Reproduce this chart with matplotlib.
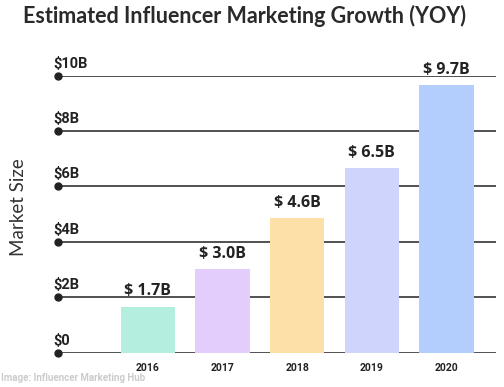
import matplotlib
matplotlib.use("Agg")
import matplotlib.pyplot as plt
import numpy as np

years = ["2016", "2017", "2018", "2019", "2020"]
heights = [1.65, 3.0, 4.85, 6.65, 9.65]
value_labels = ["$ 1.7B", "$ 3.0B", "$ 4.6B", "$ 6.5B", "$ 9.7B"]
colors = ["#b3eede", "#e3cdfd", "#fde0a7", "#cfd4fd", "#b3cefd"]
ytick_vals = [0, 2, 4, 6, 8, 10]
ytick_labels = ["$0", "$2B", "$4B", "$6B", "$8B", "$10B"]

W, H = 504, 387
fig = plt.figure(figsize=(W / 100, H / 100), dpi=100)
fig.patch.set_facecolor("white")

left_px, right_px = 58, 496
bottom_px, top_px = 352.5, 75.5
ax = fig.add_axes([left_px / W, (H - bottom_px) / H, (right_px - left_px) / W, (bottom_px - top_px) / H])
ax.set_xlim(-1.206, 4.665)
ax.set_ylim(0, 10)
ax.axis("off")

x = np.arange(len(years))
ax.bar(x, heights, width=0.73, color=colors, zorder=2)

for v, lab in zip(ytick_vals, ytick_labels):
    ax.axhline(v, color="#222222", lw=1.1, zorder=1)
    ax.plot([-1.206], [v], "o", color="#222222", ms=5, clip_on=False, zorder=3)
    ax.annotate(lab, xy=(-1.206, v), xytext=(-3.5, 3.5), textcoords="offset points",
                ha="left", va="bottom", fontsize=10.5, fontweight="bold",
                family="Roboto", color="#222222", annotation_clip=False)

for xi, h, lab in zip(x, heights, value_labels):
    ax.annotate(lab, xy=(xi, h), xytext=(0, 5.5), textcoords="offset points",
                ha="center", va="bottom", fontsize=11.5, fontweight="bold",
                family="Open Sans", color="#222222", annotation_clip=False)

for xi, yr in zip(x, years):
    ax.annotate(yr, xy=(xi, 0), xytext=(0, -11.5), textcoords="offset points",
                ha="center", va="center", fontsize=7.5, fontweight="bold",
                family="Roboto", color="#222222", annotation_clip=False)

fig.text(23 / W, 1 - 16 / H, "Estimated Influencer Marketing Growth (YOY)",
         ha="left", va="center", fontsize=15.5, fontweight="bold", family="Lato", color="#2a2a2a")
fig.text(19 / W, 1 - 207 / H, "Market Size", rotation=90, ha="center", va="center",
         fontsize=13.5, family="Lato", color="#333333")
fig.text(1 / W, 1 - 378 / H, "Image: Influencer Marketing Hub", ha="left", va="center",
         fontsize=7, fontweight="bold", family=["Liberation Sans Narrow", "Roboto"], color="#cccccc")

fig.savefig("out.png", dpi=100)
